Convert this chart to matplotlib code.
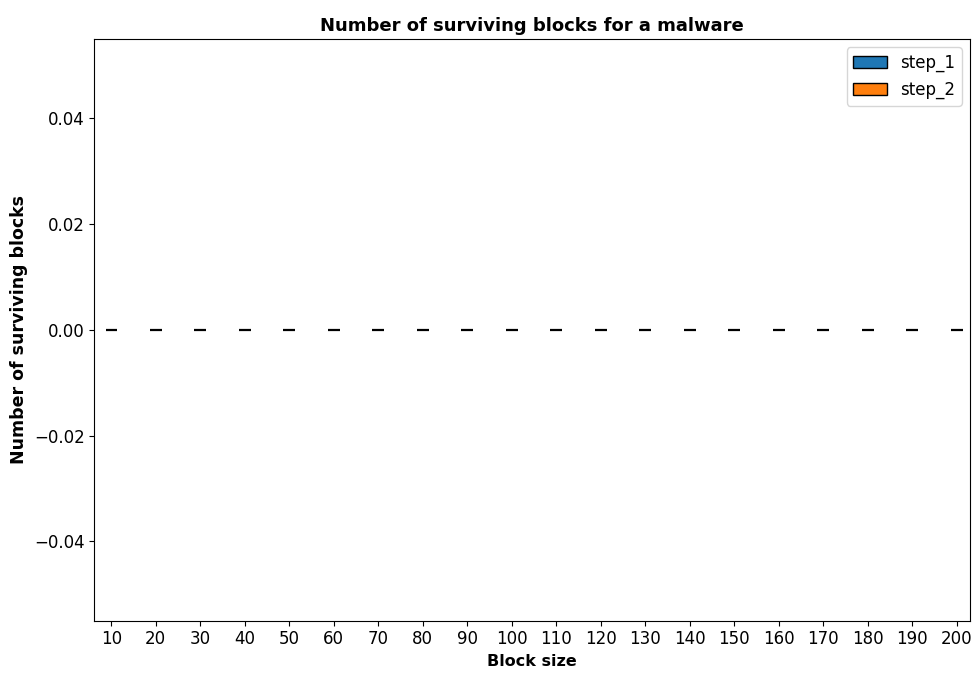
import numpy as np
import matplotlib.pyplot as plt

block_sizes = [10, 20, 30, 40, 50, 60, 70, 80, 90, 100,
               110, 120, 130, 140, 150, 160, 170, 180, 190, 200]
step_1 = [0, 0, 0, 0, 0, 0, 0, 0, 0, 0, 0, 0, 0, 0, 0, 0, 0, 0, 0, 0]
step_2 = [0, 0, 0, 0, 0, 0, 0, 0, 0, 0, 0, 0, 0, 0, 0, 0, 0, 0, 0, 0]

fig = plt.figure(figsize=(9.73, 6.74), dpi=100)
ax = fig.add_axes([0.097, 0.079, 0.9, 0.863])

x = np.arange(len(block_sizes))
width = 0.13
ax.bar(x - width / 2, step_1, width, label='step_1', color='#1f77b4',
       edgecolor='black', linewidth=1.6)
ax.bar(x + width / 2, step_2, width, label='step_2', color='#ff7f0e',
       edgecolor='black', linewidth=1.6)

ax.set_xticks(x)
ax.set_xticklabels([str(b) for b in block_sizes], fontsize=12)
ax.tick_params(axis='y', labelsize=12)
ax.set_xlim(-0.38, 19.3)
ax.set_ylim(-0.055, 0.055)

ax.set_title('Number of surviving blocks for a malware', fontsize=13, fontweight='bold')
ax.set_xlabel('Block size', fontsize=11.5, fontweight='bold')
ax.set_ylabel('Number of surviving blocks', fontsize=12.5, fontweight='bold')
leg = ax.legend(loc='upper right', fontsize=12)
for h in leg.legend_handles:
    h.set_linewidth(1.0)

fig.savefig('out.png', dpi=100)
